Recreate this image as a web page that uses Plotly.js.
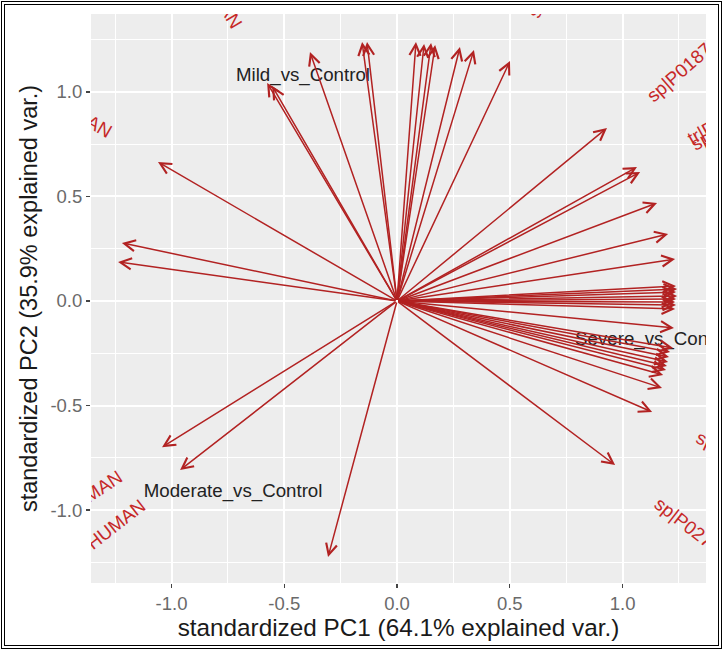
<!DOCTYPE html>
<html><head><meta charset="utf-8">
<script src="https://cdn.plot.ly/plotly-3.0.1.min.js"></script>
<style>
html,body{margin:0;padding:0;background:#fff}
#wrap{position:relative;width:724px;height:651px}
#chart{width:724px;height:651px}
#frame{position:absolute;left:1px;top:1px;width:721px;height:648px;border:4px double #000;box-sizing:border-box;pointer-events:none}
</style>
</head><body><div id="wrap"><div id="chart"></div><div id="frame"></div></div>
<script>
// arrow tips (PC1, PC2) for each variable
const arrowX = [-0.576,-0.554,-0.386,-0.155,-0.133,0.084,0.120,0.151,0.169,0.279,0.341,0.501,
  0.931,1.064,1.078,1.153,1.202,1.233,
  1.237,1.242,1.237,1.242,1.237,1.233,1.237,1.233,1.228,
  1.224,1.211,1.206,1.202,1.197,1.193,1.180,1.175,1.131,0.967,
  -1.060,-1.220,-1.237,-1.042,-0.962,-0.306];
const arrowY = [1.043,1.029,1.191,1.239,1.239,1.239,1.230,1.234,1.225,1.215,1.201,1.148,
  0.828,0.641,0.617,0.469,0.321,0.201,
  0.072,0.057,0.043,0.024,0.010,-0.005,-0.019,-0.038,-0.129,
  -0.225,-0.244,-0.268,-0.292,-0.311,-0.330,-0.354,-0.416,-0.531,-0.785,
  0.665,0.278,0.187,-0.699,-0.809,-1.225];

// group labels
const groupNames = ["Mild_vs_Control","Moderate_vs_Control","Severe_vs_Control"];
const groupX = [-0.417,-0.727,1.142];
const groupY = [1.077,-0.914,-0.187];

// visible (clipped) fragments of variable names
const varLabels = ["AN","AN","MAN","HUMAN","sp|P0187","tr|P","sp|P","sp|P","sp|P027","sp|P"];
const varX = [-0.730,-1.317,-1.308,-1.251,1.246,1.346,1.379,1.410,1.277,0.630];
const varY = [1.370,0.842,-0.880,-1.062,1.100,0.813,0.794,-0.675,-1.053,1.445];
const varAngle = [59,30,-33,-38,-41,-29,-28,23.5,38,-65];

const tickVals = [-1,-0.5,0,0.5,1];
const tickText = ["-1.0","-0.5","0.0","0.5","1.0"];

const FONT = "Liberation Sans, Arial, sans-serif";
const arrowColor = "#b22222";
const labelColor = "#c62828";

const annotations = arrowX.map((x,i)=>({
  x:x, y:arrowY[i], ax:0, ay:0, xref:'x', yref:'y', axref:'x', ayref:'y',
  text:'', showarrow:true, arrowhead:5, arrowsize:1.45, arrowwidth:1.5,
  arrowcolor:arrowColor, standoff:0, startstandoff:0
}));

const shapes = varLabels.map((t,i)=>({
  type:'line', xref:'x', yref:'y', x0:varX[i], x1:varX[i], y0:varY[i], y1:varY[i],
  line:{width:0, color:'rgba(0,0,0,0)'},
  label:{text:t, textangle:varAngle[i], textposition:'middle', xanchor:'center', yanchor:'middle', padding:0,
    font:{family:FONT, size:18.7, color:labelColor}}
}));

const traces = [{
  type:'scatter', mode:'text', x:groupX, y:groupY, text:groupNames,
  textposition:'middle center', cliponaxis:true, hoverinfo:'skip', showlegend:false,
  textfont:{family:FONT, size:18.7, color:'#222'}
}];

const axisCommon = {
  tickvals:tickVals, ticktext:tickText, ticks:'outside', ticklen:4, tickwidth:1.2, tickcolor:'#444',
  tickfont:{family:FONT, size:18.5, color:'#6a6a6a'},
  showgrid:true, gridcolor:'#ffffff', gridwidth:2, zeroline:false, showline:false,
  minor:{dtick:0.25, tick0:0, showgrid:true, gridcolor:'#ffffff', gridwidth:1, ticks:''},
  automargin:false, fixedrange:true
};

const layout = {
  width:724, height:651,
  margin:{l:91, r:18, t:14, b:68},
  paper_bgcolor:'#ffffff', plot_bgcolor:'#ededed',
  showlegend:false,
  xaxis:Object.assign({}, axisCommon, {range:[-1.357,1.370],
    title:{text:'standardized PC1 (64.1% explained var.)', font:{family:FONT, size:24.3, color:'#1a1a1a'}, standoff:3}}),
  yaxis:Object.assign({}, axisCommon, {range:[-1.349,1.373],
    title:{text:'standardized PC2 (35.9% explained var.)', font:{family:FONT, size:23.5, color:'#1a1a1a'}, standoff:6}}),
  annotations:annotations,
  shapes:shapes
};

Plotly.newPlot('chart', traces, layout, {staticPlot:true, displayModeBar:false});
</script>
</body></html>
